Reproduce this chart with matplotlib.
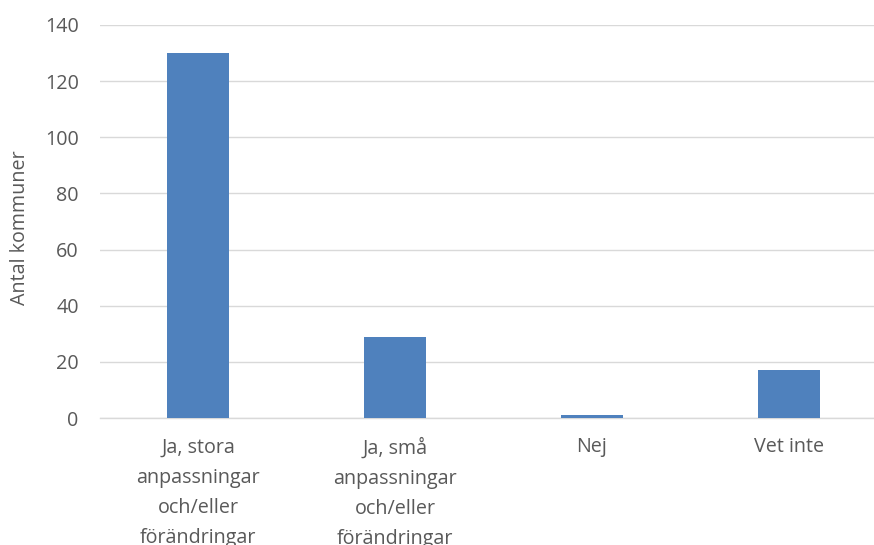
import matplotlib
matplotlib.use("Agg")
import matplotlib.pyplot as plt

categories = ["Ja, stora\nanpassningar\noch/eller\nförändringar",
              "Ja, små\nanpassningar\noch/eller\nförändringar",
              "Nej",
              "Vet inte"]
values = [130, 29, 1, 17]
yticks = [0, 20, 40, 60, 80, 100, 120, 140]

W, H = 874, 545
fig = plt.figure(figsize=(W / 100, H / 100), dpi=100)
left, right = 99.5, 887.5
bottom, top = 418, 25
ax = fig.add_axes([left / W, (H - bottom) / H, (right - left) / W, (bottom - top) / H])

fam = ['Open Sans', 'DejaVu Sans']
plt.rcParams['font.family'] = fam
txtcol = "#595959"
fs = 14.2
x = list(range(len(categories)))
ax.bar(x, values, width=0.315, color="#4F81BD", zorder=3)
ax.set_xlim(-0.5, len(categories) - 0.5)
ax.set_ylim(0, 140)
ax.set_yticks(yticks)
ax.set_yticklabels([str(t) for t in yticks], fontsize=fs, color=txtcol, family=fam)
ax.set_xticks(x)
ax.set_xticklabels(categories, fontsize=fs, color=txtcol, linespacing=1.68,
                   va="top", family=fam)
ax.tick_params(axis="both", length=0)
ax.tick_params(axis="y", pad=15)
ax.tick_params(axis="x", pad=14)
ax.grid(axis="y", color="#D9D9D9", linewidth=1.0, zorder=0)
for s in ["top", "right", "left"]:
    ax.spines[s].set_visible(False)
ax.spines["bottom"].set_color("#D9D9D9")
ax.spines["bottom"].set_linewidth(1.0)
ax.set_ylabel("Antal kommuner", fontsize=fs, color=txtcol, family=fam)
ax.yaxis.set_label_coords(-69.5 / (right - left), (418 - 228) / (bottom - top))

fig.savefig("out.png", dpi=100)
